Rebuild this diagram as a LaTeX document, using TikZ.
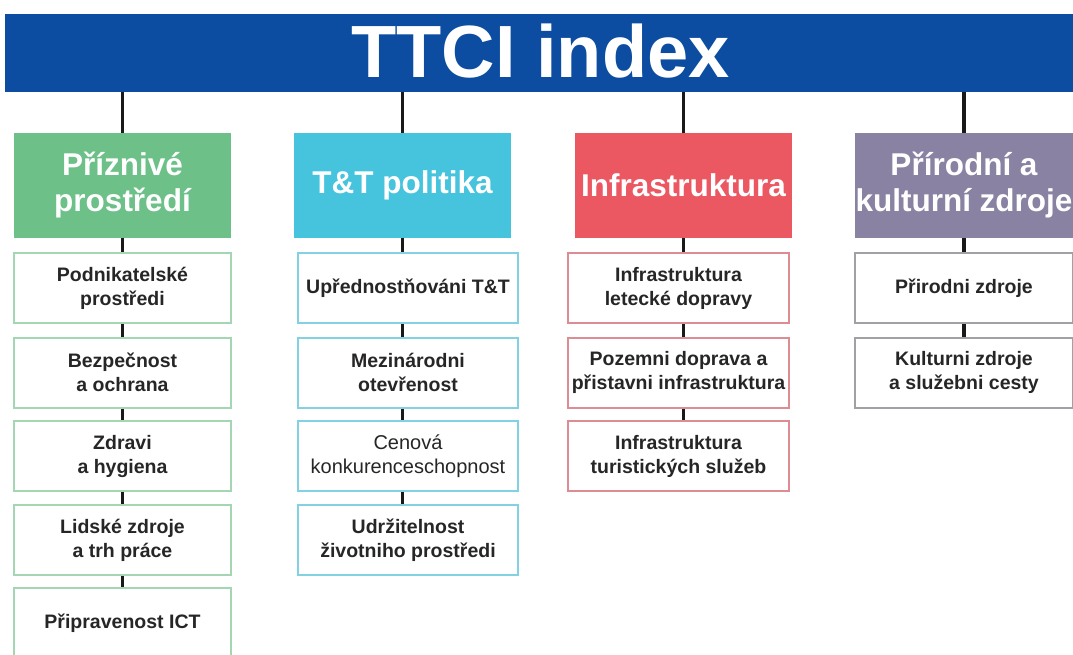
\documentclass[tikz,border=0pt]{standalone}
\usepackage{fontspec}
\setmainfont{Liberation Sans}
\usepackage{xcolor}
\usetikzlibrary{positioning}
\definecolor{bleu}{RGB}{12, 77, 162}
\definecolor{vert}{RGB}{108, 192, 136}
\definecolor{cyan2}{RGB}{70, 196, 222}
\definecolor{rouge}{RGB}{236, 88, 98}
\definecolor{violet2}{RGB}{138, 130, 162}
\definecolor{vertpale}{RGB}{165, 214, 180}
\definecolor{cyanpale}{RGB}{130, 210, 228}
\definecolor{rougepale}{RGB}{222, 140, 148}
\definecolor{grispale}{RGB}{160, 160, 165}

\begin{document}
\begin{tikzpicture}[x=1pt, y=-1pt,
    hdr/.style={minimum width=217pt, minimum height=105pt, inner sep=0pt, text=white, align=center,
        font=\fontsize{31.5}{36}\selectfont\bfseries},
    sub/.style={draw=#1, line width=2pt, fill=white, minimum width=217pt, minimum height=70pt, inner sep=0pt,
        align=center, text=black!85, font=\fontsize{19.5}{24}\selectfont\bfseries},
    conn/.style={line width=3.5pt, black!90}]
                \useasboundingbox (0,0) rectangle (1073,655);
                \clip (0,0) rectangle (1073,655);

                % bandeau du titre
                \node[fill=bleu, minimum width=1070pt, minimum height=78pt, inner sep=0pt, anchor=north west] (bar) at (5,14) {};
                \node[text=white, inner sep=0pt, font=\fontsize{74}{74}\selectfont\bfseries] (titre) at (540.5,51.5) {TTCI index};

                % piliers
                \node[hdr, fill=vert] (env) at (122.5,185.5) {Příznivé\\prostředí};
                \node[hdr, fill=cyan2] (pol) at (402.5,185.5) {T\&T politika};
                \node[hdr, fill=rouge] (infra) at (683.5,185.5) {Infrastruktura};
                \node[hdr, fill=violet2, minimum width=218pt] (zdr) at (964,185.5) {Přírodní a\\kulturní zdroje};

                % liens vers le bandeau
                \draw[conn] (bar.south -| env.north) -- (env.north);
                \draw[conn] (bar.south -| pol.north) -- (pol.north);
                \draw[conn] (bar.south -| infra.north) -- (infra.north);
                \draw[conn] (bar.south -| zdr.north) -- (zdr.north);

                % Příznivé prostředí
                \node[sub=vertpale] (env1) at (122.5,288) {Podnikatelské\\prostředi};
                \node[sub=vertpale] (env2) at (122.5,372.5) {Bezpečnost\\a ochrana};
                \node[sub=vertpale] (env3) at (122.5,456) {Zdravi\\a hygiena};
                \node[sub=vertpale] (env4) at (122.5,540) {Lidské zdroje\\a trh práce};
                \node[sub=vertpale] (env5) at (122.5,623) {Připravenost ICT};
                \draw[conn] (env.south) -- (env1.north);
                \draw[conn] (env1.south) -- (env2.north);
                \draw[conn] (env2.south) -- (env3.north);
                \draw[conn] (env3.south) -- (env4.north);
                \draw[conn] (env4.south) -- (env5.north);

                % T&T politika
                \node[sub=cyanpale, minimum width=220pt] (pol1) at (408,288) {Upřednostňováni T\&T};
                \node[sub=cyanpale, minimum width=220pt] (pol2) at (408,372.5) {Mezinárodni\\otevřenost};
                \node[sub=cyanpale, minimum width=220pt, font=\fontsize{20}{24}\selectfont] (pol3) at (408,456) {Cenová\\konkurenceschopnost};
                \node[sub=cyanpale, minimum width=220pt] (pol4) at (408,540) {Udržitelnost\\životniho prostředi};
                \draw[conn] (pol.south) -- (pol.south |- pol1.north);
                \draw[conn] (pol.south |- pol1.south) -- (pol.south |- pol2.north);
                \draw[conn] (pol.south |- pol2.south) -- (pol.south |- pol3.north);
                \draw[conn] (pol.south |- pol3.south) -- (pol.south |- pol4.north);

                % Infrastruktura
                \node[sub=rougepale, minimum width=221pt] (inf1) at (678.5,288) {Infrastruktura\\letecké dopravy};
                \node[sub=rougepale, minimum width=221pt] (inf2) at (678.5,372.5) {Pozemni doprava a\\přistavni infrastruktura};
                \node[sub=rougepale, minimum width=221pt] (inf3) at (678.5,456) {Infrastruktura\\turistických služeb};
                \draw[conn] (infra.south) -- (infra.south |- inf1.north);
                \draw[conn] (infra.south |- inf1.south) -- (infra.south |- inf2.north);
                \draw[conn] (infra.south |- inf2.south) -- (infra.south |- inf3.north);

                % Přírodní a kulturní zdroje
                \node[sub=grispale, minimum width=218pt] (zdr1) at (964,288) {Přirodni zdroje};
                \node[sub=grispale, minimum width=218pt] (zdr2) at (964,372.5) {Kulturni zdroje\\a služebni cesty};
                \draw[conn] (zdr.south) -- (zdr1.north);
                \draw[conn] (zdr1.south) -- (zdr2.north);
            \end{tikzpicture}
\end{document}
